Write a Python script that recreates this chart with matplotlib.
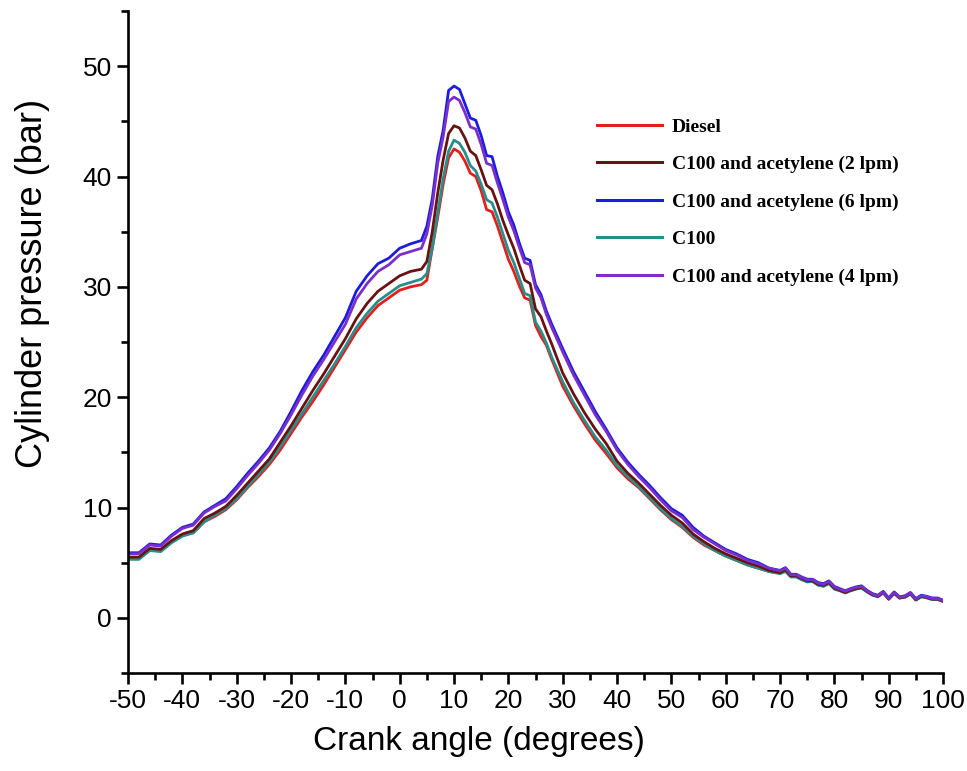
import numpy as np
import matplotlib.pyplot as plt
from matplotlib.ticker import MultipleLocator

# crank angle grid (deg)
angle_left = [-50, -48, -46, -44, -42, -40, -38, -36, -34, -32, -30, -28, -26, -24,
              -22, -20, -18, -16, -14, -12, -10, -8, -6, -4, -2, 0, 2]
angle_peak = [4, 5, 6, 7, 8, 9, 10, 11, 12, 13, 14, 15, 16, 17, 18, 19, 20, 21, 22,
              23, 24, 25, 26, 27, 28]
angle_mid = [30, 32, 34, 36, 38, 40, 42, 44, 46, 48, 50, 52, 54, 56, 58, 60, 62, 64, 66, 68]
angle_tail = [70, 71, 72, 73, 74, 75, 76, 77, 78, 79, 80, 81, 82, 83, 84, 85, 86, 87,
              88, 89, 90, 91, 92, 93, 94, 95, 96, 97, 98, 99, 100]

# cylinder pressure (bar)
diesel = [5.4, 5.4, 6.2, 6.1, 6.9, 7.5, 7.7, 8.7, 9.2, 9.8, 10.7, 11.8, 12.8, 13.9,
          15.2, 16.7, 18.2, 19.6, 21.1, 22.7, 24.3, 25.9, 27.2, 28.3, 29.0, 29.7, 30.0,
          30.2, 30.6, 33.5, 36.3, 39.3, 41.7, 42.5, 42.2, 41.4, 40.3, 40.0, 38.7, 37.0,
          36.8, 35.5, 34.0, 32.5, 31.4, 30.1, 29.0, 28.8, 26.5, 25.5, 24.7, 23.4,
          21.0, 19.2, 17.6, 16.1, 14.9, 13.6, 12.6, 11.8, 10.8, 9.8, 8.9, 8.2, 7.3, 6.6,
          6.1, 5.6, 5.2, 4.8, 4.5, 4.2,
          4.05, 4.3, 3.75, 3.75, 3.5, 3.3, 3.3, 3.0, 2.9, 3.15, 2.65, 2.5, 2.3, 2.5, 2.65,
          2.75, 2.4, 2.1, 1.95, 2.3, 1.7, 2.25, 1.8, 1.9, 2.2, 1.65, 1.95, 1.85, 1.7, 1.7, 1.5]

c100_2lpm = [5.5, 5.5, 6.3, 6.2, 7.0, 7.6, 7.9, 9.0, 9.5, 10.1, 11.1, 12.2, 13.3, 14.4,
             15.9, 17.4, 19.0, 20.6, 22.1, 23.7, 25.3, 27.1, 28.5, 29.6, 30.3, 31.0, 31.4,
             31.6, 32.3, 35.0, 38.5, 41.5, 43.9, 44.6, 44.4, 43.5, 42.3, 41.9, 40.6, 39.2,
             38.8, 37.5, 36.0, 34.7, 33.5, 32.0, 30.6, 30.3, 28.0, 27.3, 26.0, 24.8,
             22.2, 20.3, 18.6, 17.1, 15.8, 14.2, 13.1, 12.2, 11.2, 10.2, 9.3, 8.6, 7.6, 6.9,
             6.3, 5.8, 5.4, 5.0, 4.7, 4.3,
             4.1, 4.35, 3.8, 3.8, 3.55, 3.35, 3.35, 3.05, 2.95, 3.2, 2.7, 2.5, 2.3, 2.5, 2.65,
             2.75, 2.4, 2.1, 1.95, 2.3, 1.7, 2.25, 1.8, 1.9, 2.2, 1.65, 1.95, 1.85, 1.7, 1.7, 1.5]

c100_6lpm = [5.9, 5.9, 6.7, 6.6, 7.5, 8.2, 8.5, 9.6, 10.2, 10.8, 11.9, 13.1, 14.2, 15.4,
             16.9, 18.7, 20.6, 22.3, 23.8, 25.5, 27.2, 29.6, 31.0, 32.1, 32.6, 33.5, 33.9,
             34.2, 35.5, 38.0, 41.8, 44.2, 47.8, 48.2, 47.9, 46.6, 45.3, 45.1, 43.7, 41.9,
             41.8, 40.0, 38.5, 36.8, 35.6, 34.0, 32.6, 32.4, 30.2, 29.3, 27.8, 26.6,
             24.4, 22.3, 20.5, 18.7, 17.1, 15.4, 14.1, 13.0, 12.0, 10.9, 9.9, 9.3, 8.2, 7.4,
             6.8, 6.2, 5.8, 5.3, 5.0, 4.5,
             4.3, 4.55, 3.95, 3.95, 3.7, 3.5, 3.5, 3.2, 3.1, 3.35, 2.85, 2.65, 2.45, 2.65, 2.8,
             2.9, 2.5, 2.2, 2.05, 2.4, 1.8, 2.35, 1.9, 2.0, 2.3, 1.75, 2.05, 1.95, 1.8, 1.8, 1.6]

c100 = [5.3, 5.3, 6.1, 6.0, 6.8, 7.4, 7.7, 8.7, 9.3, 9.9, 10.8, 11.9, 13.0, 14.1,
        15.5, 17.0, 18.5, 20.0, 21.5, 23.0, 24.6, 26.3, 27.6, 28.7, 29.4, 30.1, 30.4,
        30.7, 31.2, 33.5, 36.7, 39.8, 42.3, 43.3, 43.0, 42.2, 41.0, 40.5, 39.3, 37.9,
        37.6, 36.3, 34.8, 33.3, 32.2, 30.8, 29.4, 29.2, 26.8, 26.0, 24.9, 23.6,
        21.4, 19.5, 17.9, 16.4, 15.2, 13.8, 12.8, 11.9, 10.9, 9.9, 9.0, 8.3, 7.4, 6.7,
        6.1, 5.6, 5.2, 4.8, 4.5, 4.2,
        4.0, 4.2, 3.7, 3.7, 3.45, 3.25, 3.3, 2.95, 2.85, 3.1, 2.6, 2.45, 2.25, 2.45, 2.6,
        2.7, 2.35, 2.05, 1.9, 2.25, 1.7, 2.2, 1.8, 1.85, 2.15, 1.6, 1.9, 1.8, 1.65, 1.65, 1.5]

c100_4lpm = [5.8, 5.8, 6.6, 6.5, 7.4, 8.1, 8.4, 9.5, 10.1, 10.6, 11.7, 12.9, 14.0, 15.2,
             16.7, 18.4, 20.2, 21.9, 23.4, 25.0, 26.6, 28.9, 30.3, 31.4, 32.0, 32.9, 33.2,
             33.5, 34.8, 37.4, 41.2, 43.6, 46.8, 47.2, 46.9, 45.8, 44.5, 44.3, 42.9, 41.2,
             41.0, 39.4, 37.9, 36.3, 35.1, 33.6, 32.2, 32.0, 29.9, 29.0, 27.5, 26.3,
             24.1, 22.0, 20.2, 18.4, 16.9, 15.2, 13.9, 12.8, 11.8, 10.7, 9.7, 9.1, 8.0, 7.3,
             6.7, 6.1, 5.7, 5.2, 4.9, 4.5,
             4.25, 4.5, 3.9, 3.9, 3.65, 3.45, 3.45, 3.15, 3.05, 3.3, 2.8, 2.6, 2.4, 2.6, 2.75,
             2.85, 2.45, 2.15, 2.0, 2.35, 1.75, 2.3, 1.85, 1.95, 2.25, 1.7, 2.0, 1.9, 1.75, 1.75, 1.55]

angle = np.array(angle_left + angle_peak + angle_mid + angle_tail)

series = [
    ('Diesel', diesel, '#e41e1e'),
    ('C100 and acetylene (2 lpm)', c100_2lpm, '#6a1212'),
    ('C100 and acetylene (6 lpm)', c100_6lpm, '#1c1ce0'),
    ('C100', c100, '#25908a'),
    ('C100 and acetylene (4 lpm)', c100_4lpm, '#7b2fc9'),
]

plt.rcParams['font.family'] = ['Liberation Sans', 'DejaVu Sans']
plt.rcParams['axes.unicode_minus'] = False

fig = plt.figure(figsize=(9.67, 7.71), dpi=100)
ax = fig.add_axes([0.1324, 0.1271, 0.8428, 0.8586])

# draw order: lower curves first, blue/purple on top
for i in [0, 3, 1, 2, 4]:
    name, vals, col = series[i]
    ax.plot(angle, vals, color=col, lw=2)

ax.set_xlim(-50, 100)
ax.set_ylim(-5, 55)
ax.xaxis.set_major_locator(MultipleLocator(10))
ax.xaxis.set_minor_locator(MultipleLocator(5))
ax.set_yticks([0, 10, 20, 30, 40, 50])
ax.yaxis.set_minor_locator(MultipleLocator(5))

for s in ['top', 'right']:
    ax.spines[s].set_visible(False)
for s in ['left', 'bottom']:
    ax.spines[s].set_linewidth(1.9)

ax.tick_params(which='major', direction='out', length=8, width=1.9, labelsize=19)
ax.tick_params(which='minor', direction='out', length=5, width=1.9)

ax.set_xlabel('Crank angle (degrees)', fontsize=24)
ax.xaxis.set_label_coords(0.43, -0.08)
ax.set_ylabel('Cylinder pressure (bar)', fontsize=26)
ax.yaxis.set_label_coords(-0.096, 0.589)

handles = [plt.Line2D([], [], color=c, lw=2.2) for _, _, c in series]
labels = [n for n, _, _ in series]
fig.legend(handles, labels, loc='upper left', bbox_to_anchor=(0.609, 0.857),
           frameon=False, prop={'family': 'Liberation Serif', 'weight': 'bold', 'size': 14},
           handlelength=3.35, handletextpad=0.5, labelspacing=1.02, borderaxespad=0)

fig.savefig('out.png', dpi=100, facecolor='white')
